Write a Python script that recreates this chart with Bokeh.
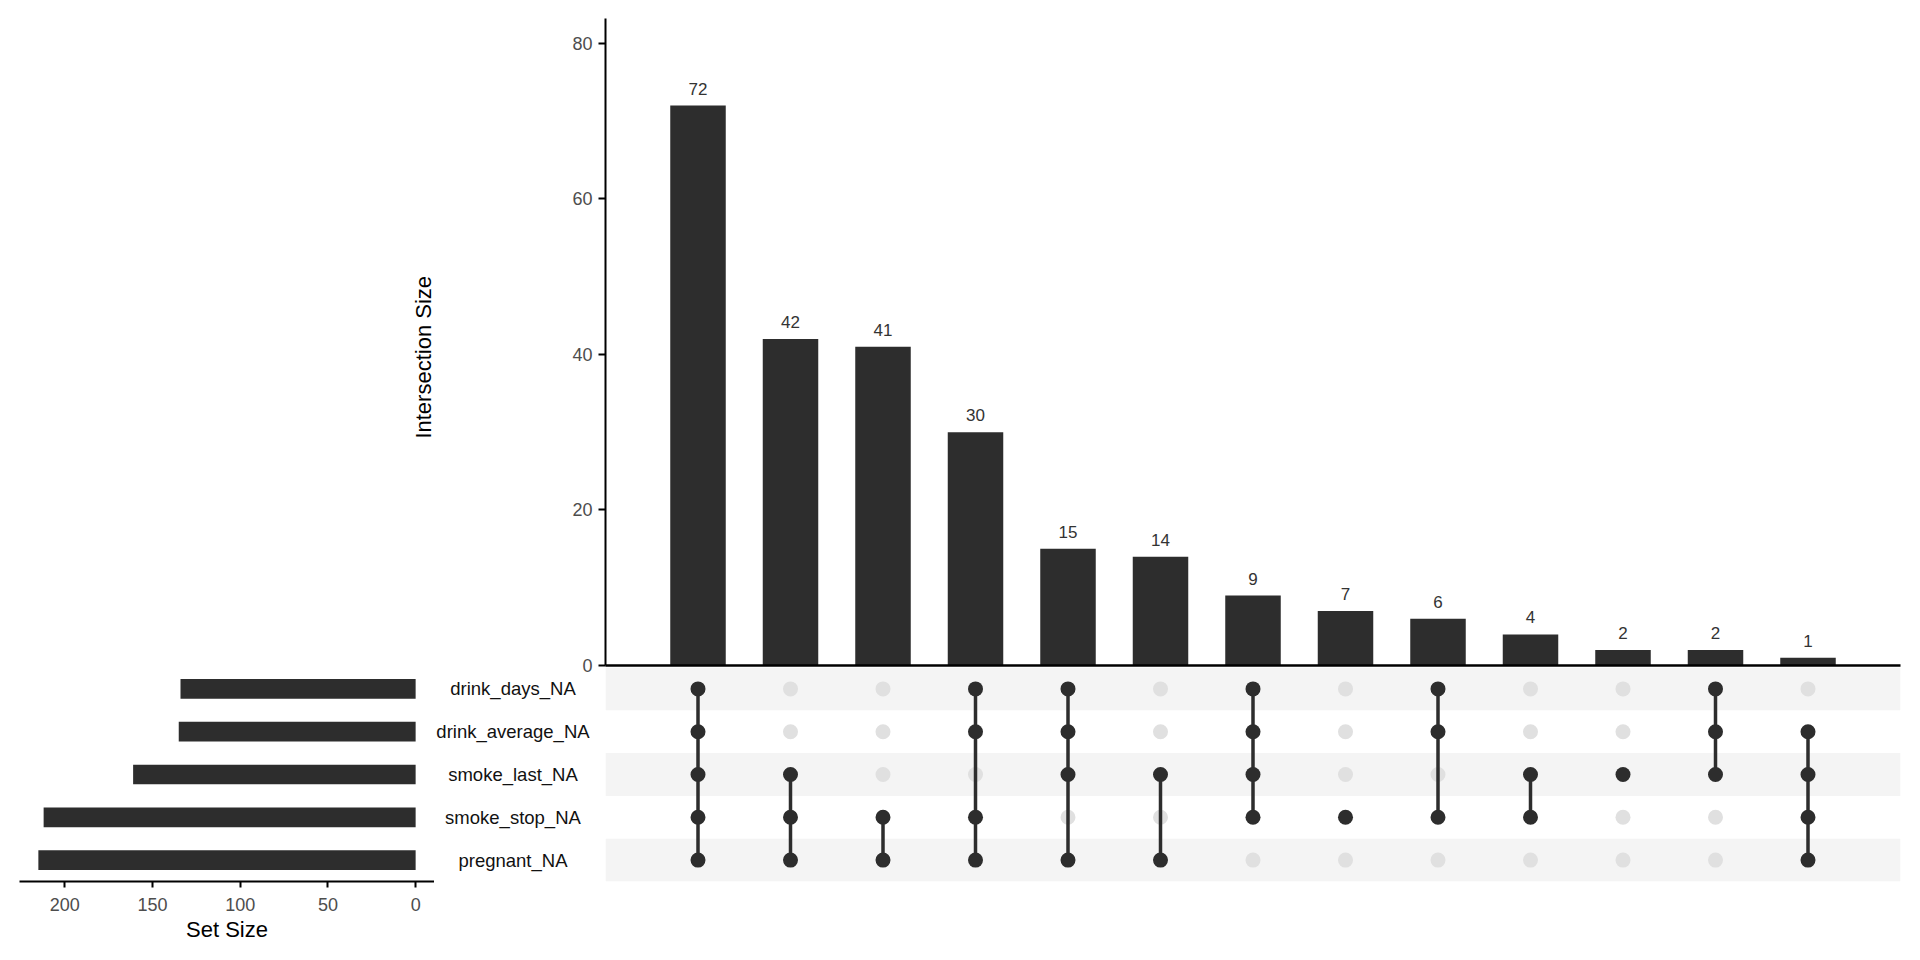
import numpy as np
from bokeh.plotting import figure
from bokeh.layouts import column, row
from bokeh.models import Range1d, FixedTicker, ColumnDataSource
from bokeh.core.properties import value
from bokeh.embed import file_html
from bokeh.resources import INLINE

# ---------------- data ----------------
set_names = ["drink_days_NA", "drink_average_NA", "smoke_last_NA", "smoke_stop_NA", "pregnant_NA"]
set_sizes = [134, 135, 161, 212, 215]

intersection_counts = [72, 42, 41, 30, 15, 14, 9, 7, 6, 4, 2, 2, 1]
intersection_members = [
    ["drink_days_NA", "drink_average_NA", "smoke_last_NA", "smoke_stop_NA", "pregnant_NA"],
    ["smoke_last_NA", "smoke_stop_NA", "pregnant_NA"],
    ["smoke_stop_NA", "pregnant_NA"],
    ["drink_days_NA", "drink_average_NA", "smoke_stop_NA", "pregnant_NA"],
    ["drink_days_NA", "drink_average_NA", "smoke_last_NA", "pregnant_NA"],
    ["smoke_last_NA", "pregnant_NA"],
    ["drink_days_NA", "drink_average_NA", "smoke_last_NA", "smoke_stop_NA"],
    ["smoke_stop_NA"],
    ["drink_days_NA", "drink_average_NA", "smoke_stop_NA"],
    ["smoke_last_NA", "smoke_stop_NA"],
    ["smoke_last_NA"],
    ["drink_days_NA", "drink_average_NA", "smoke_last_NA"],
    ["drink_average_NA", "smoke_last_NA", "smoke_stop_NA", "pregnant_NA"],
]

# ---------------- styles ----------------
FONT = "Liberation Sans"
BAR = "#2d2d2d"
LIGHT_DOT = "#e0e0e0"
STRIPE = "#f4f4f4"
TICK_TXT = "#4d4d4d"

n_int = len(intersection_counts)
n_sets = len(set_names)
xs = np.arange(1, n_int + 1)
rows = np.arange(1, n_sets + 1)

X_RANGE = (0, n_int + 1)
ROW_RANGE = (n_sets + 0.5, 0.5)

def clean(p, transparent=False):
    p.xgrid.visible = False
    p.ygrid.visible = False
    p.outline_line_color = None
    p.background_fill_color = "white"
    p.border_fill_color = "white"
    if transparent:
        p.border_fill_alpha = 0
        p.background_fill_alpha = 0

# ---------------- top: intersection sizes ----------------
TOP_B = 12
p_top = figure(width=1912, height=18 + 647 + TOP_B, x_range=Range1d(*X_RANGE), y_range=Range1d(0, 83.2),
               output_backend="svg", toolbar_location=None,
               min_border_left=605, min_border_right=12, min_border_top=18, min_border_bottom=TOP_B)
clean(p_top)
src_top = ColumnDataSource(dict(x=xs, top=intersection_counts,
                                lab=[str(v) for v in intersection_counts]))
p_top.vbar(x="x", top="top", width=0.6, source=src_top, fill_color=BAR, line_color=None)
p_top.text(x="x", y="top", text="lab", source=src_top, text_align="center",
           text_baseline="bottom", y_offset=-11, text_font=value(FONT),
           text_font_size="17px", text_color="#333333")

yax = p_top.yaxis[0]
yax.ticker = FixedTicker(ticks=[0, 20, 40, 60, 80])
yax.minor_tick_line_color = None
yax.major_tick_out = 7
yax.major_tick_in = 0
yax.major_tick_line_width = 2
yax.axis_line_width = 2
yax.major_label_text_font = FONT
yax.major_label_text_font_size = "18px"
yax.major_label_text_color = TICK_TXT
yax.major_label_standoff = 6
# trailing no-break spaces nudge the visible title slightly below the frame centre
yax.axis_label = "Intersection Size" + "\u00a0" * 5
yax.axis_label_text_font = FONT
yax.axis_label_text_font_size = "22px"
yax.axis_label_text_font_style = "normal"
yax.axis_label_text_color = "black"
yax.axis_label_standoff = 133

xax = p_top.xaxis[0]
xax.ticker = FixedTicker(ticks=[])
xax.major_tick_out = 0
xax.major_tick_in = 0
xax.minor_tick_line_color = None
xax.major_label_standoff = 0
xax.major_label_text_font_size = "0px"
xax.axis_line_width = 2.5

# ---------------- bottom row (overlaps the top figure's bottom border) ----------------
OVER = 12
BOT_T = OVER - 10
BOT_B = 62
BOT_H = BOT_T + 215 + BOT_B

# bottom-left: set sizes
p_left = figure(width=434, height=BOT_H, x_range=Range1d(225.75, -10.75), y_range=Range1d(*ROW_RANGE),
                output_backend="svg", toolbar_location=None,
                min_border_left=19, min_border_right=0, min_border_top=BOT_T, min_border_bottom=BOT_B)
clean(p_left)
p_left.border_fill_alpha = 0
p_left.hbar(y=rows, right=set_sizes, left=0, height=0.46, fill_color=BAR, line_color=None)
p_left.yaxis.visible = False
lx = p_left.xaxis[0]
lx.ticker = FixedTicker(ticks=[0, 50, 100, 150, 200])
lx.minor_tick_line_color = None
lx.major_tick_out = 6
lx.major_tick_in = 0
lx.major_tick_line_width = 2
lx.axis_line_width = 2
lx.major_label_text_font = FONT
lx.major_label_text_font_size = "18px"
lx.major_label_text_color = TICK_TXT
lx.major_label_standoff = 10
lx.axis_label = "Set Size"
lx.axis_label_text_font = FONT
lx.axis_label_text_font_size = "22px"
lx.axis_label_text_font_style = "normal"
lx.axis_label_text_color = "black"
lx.axis_label_standoff = 3

# bottom-middle: set names
p_lab = figure(width=171, height=BOT_H, x_range=Range1d(0, 1), y_range=Range1d(*ROW_RANGE),
               output_backend="svg", toolbar_location=None,
               min_border_left=0, min_border_right=0, min_border_top=BOT_T, min_border_bottom=BOT_B)
clean(p_lab, transparent=True)
p_lab.xaxis.visible = False
p_lab.yaxis.visible = False
p_lab.text(x=[0.459] * n_sets, y=rows, text=set_names, text_align="center",
           text_baseline="middle", text_font=value(FONT), text_font_size="18.5px",
           text_color="#111111")

# bottom-right: matrix
p_mat = figure(width=1307, height=BOT_H, x_range=Range1d(*X_RANGE), y_range=Range1d(*ROW_RANGE),
               output_backend="svg", toolbar_location=None,
               min_border_left=0, min_border_right=12, min_border_top=BOT_T, min_border_bottom=BOT_B)
clean(p_mat)
p_mat.border_fill_alpha = 0
p_mat.xaxis.visible = False
p_mat.yaxis.visible = False

stripe_rows = rows[0::2]
p_mat.hbar(y=stripe_rows, left=X_RANGE[0], right=X_RANGE[1], height=1.0,
           fill_color=STRIPE, line_color=None)

dot_x, dot_y, dot_c = [], [], []
seg_x, seg_y0, seg_y1 = [], [], []
for i, members in enumerate(intersection_members):
    r_in = [set_names.index(m) + 1 for m in members]
    for r in rows:
        dot_x.append(xs[i])
        dot_y.append(r)
        dot_c.append(BAR if r in r_in else LIGHT_DOT)
    if len(r_in) > 1:
        seg_x.append(xs[i])
        seg_y0.append(min(r_in))
        seg_y1.append(max(r_in))

light = [k for k, c in enumerate(dot_c) if c == LIGHT_DOT]
dark = [k for k, c in enumerate(dot_c) if c == BAR]
p_mat.scatter(x=[dot_x[k] for k in light], y=[dot_y[k] for k in light], size=15,
              fill_color=LIGHT_DOT, line_color=None)
p_mat.segment(x0=seg_x, y0=seg_y0, x1=seg_x, y1=seg_y1, line_color=BAR, line_width=3.5)
p_mat.scatter(x=[dot_x[k] for k in dark], y=[dot_y[k] for k in dark], size=15,
              fill_color=BAR, line_color=None)

bottom = row(p_left, p_lab, p_mat, spacing=0, margin=(-OVER, 0, 0, 0))
layout = column(p_top, bottom, spacing=0)

open("out.html", "w").write(file_html(layout, INLINE))
